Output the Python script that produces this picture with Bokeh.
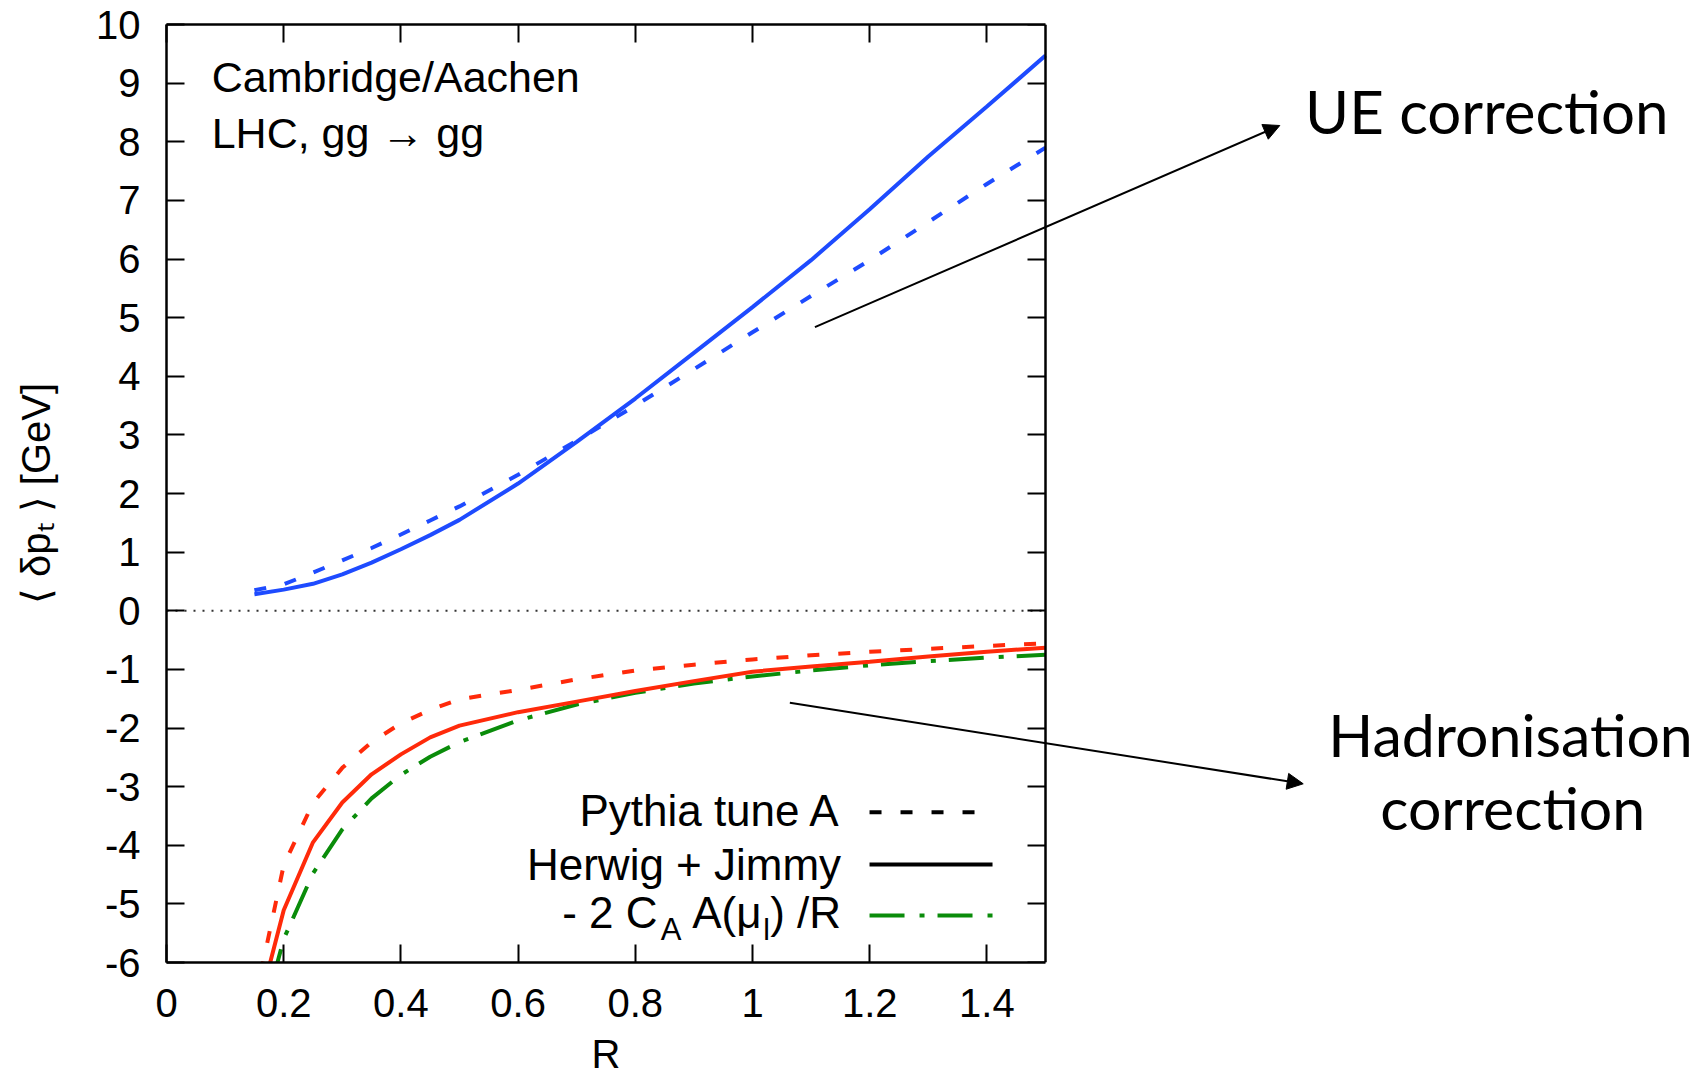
from bokeh.plotting import figure
from bokeh.models import (ColumnDataSource, Label, Arrow, NormalHead,
                          LinearAxis, Range1d, FixedTicker)
from bokeh.embed import file_html
from bokeh.resources import INLINE

# ---- data ----
R = [0.15, 0.2, 0.25, 0.3, 0.35, 0.4, 0.45, 0.5, 0.6, 0.7, 0.8, 0.9, 1.0,
     1.1, 1.2, 1.3, 1.4, 1.5]
ue_herwig = [0.28, 0.36, 0.46, 0.62, 0.82, 1.05, 1.29, 1.55, 2.17, 2.88, 3.62,
             4.40, 5.18, 5.98, 6.85, 7.75, 8.60, 9.47]
ue_pythia = [0.35, 0.45, 0.65, 0.86, 1.07, 1.30, 1.54, 1.78, 2.32, 2.90, 3.50,
             4.12, 4.75, 5.37, 5.98, 6.63, 7.28, 7.90]
had_herwig = [-7.04, -5.11, -3.95, -3.27, -2.79, -2.45, -2.16, -1.96, -1.73,
              -1.55, -1.37, -1.20, -1.04, -0.95, -0.87, -0.78, -0.70, -0.63]
had_pythia = [-6.70, -4.34, -3.28, -2.68, -2.24, -1.92, -1.69, -1.51, -1.35,
              -1.17, -1.02, -0.92, -0.83, -0.76, -0.70, -0.65, -0.60, -0.555]
had_analytic = [-7.47, -5.60, -4.48, -3.73, -3.20, -2.80, -2.49, -2.24, -1.87,
                -1.60, -1.40, -1.24, -1.12, -1.02, -0.93, -0.86, -0.80, -0.75]

x_ticks = [0, 0.2, 0.4, 0.6, 0.8, 1.0, 1.2, 1.4]
x_tick_labels = ["0", "0.2", "0.4", "0.6", "0.8", "1", "1.2", "1.4"]
y_ticks = [-6, -5, -4, -3, -2, -1, 0, 1, 2, 3, 4, 5, 6, 7, 8, 9, 10]
y_tick_labels = ["-6", "-5", "-4", "-3", "-2", "-1", "0", "1", "2", "3", "4",
                 "5", "6", "7", "8", "9", "10"]
x_title = "R"
y_title = "⟨ δpₜ ⟩ [GeV]"
R_MIN, R_MAX = 0.0, 1.5
Y_MIN, Y_MAX = -6.0, 10.0

BLUE = "#1e4bff"
RED = "#ff2a0a"
GREEN = "#0a8c0a"
FONT = "Liberation Sans"
ANN_FONT = "Lato"

PX_PER_R = 586.0
FRAME_W = 1530
X_END = FRAME_W / PX_PER_R   # frame continues right of the box for the notes

p = figure(frame_width=FRAME_W, frame_height=938,
           min_border_left=166, min_border_right=0,
           min_border_top=24, min_border_bottom=118,
           x_range=Range1d(0, X_END), y_range=Range1d(Y_MIN, Y_MAX),
           output_backend="svg", toolbar_location=None,
           y_axis_label=y_title)
p.background_fill_color = "white"
p.border_fill_color = "white"
p.xgrid.visible = False
p.ygrid.visible = False
p.outline_line_color = None

# bottom / left axes
xa = p.xaxis[0]
xa.ticker = FixedTicker(ticks=x_ticks)
xa.bounds = (R_MIN, R_MAX)
xa.major_label_overrides = {t: l for t, l in zip(x_ticks, x_tick_labels)}
ya = p.yaxis[0]
ya.ticker = FixedTicker(ticks=y_ticks)
ya.major_label_overrides = {t: l for t, l in zip(y_ticks, y_tick_labels)}
for ax in (xa, ya):
    ax.major_tick_in = 18
    ax.major_tick_out = 0
    ax.major_tick_line_width = 2
    ax.major_tick_line_color = "black"
    ax.minor_tick_line_color = None
    ax.axis_line_width = 2.5
    ax.axis_line_color = "black"
    ax.major_label_text_font = FONT
    ax.major_label_text_font_size = "40px"
    ax.major_label_text_color = "black"
    ax.axis_label_text_font = FONT
    ax.axis_label_text_font_size = "40px"
    ax.axis_label_text_font_style = "normal"
    ax.axis_label_text_color = "black"
xa.major_label_standoff = 26
ya.major_label_standoff = 26
ya.axis_label_standoff = 35

# x title centred under the box (R = 0.75) via a label-only axis
mid = (R_MIN + R_MAX) / 2
tax = LinearAxis(ticker=FixedTicker(ticks=[mid]), bounds=(R_MIN, R_MAX))
tax.major_label_overrides = {mid: x_title}
tax.axis_line_color = None
tax.major_tick_line_color = None
tax.minor_tick_line_color = None
tax.major_label_text_font = FONT
tax.major_label_text_font_size = "40px"
tax.major_label_text_color = "black"
tax.major_label_standoff = 6
p.add_layout(tax, "below")

# mirrored tick marks on top and on the right edge of the box (R = 1.5)
top = LinearAxis(ticker=FixedTicker(ticks=x_ticks), bounds=(R_MIN, R_MAX))
right = LinearAxis(ticker=FixedTicker(ticks=y_ticks), fixed_location=R_MAX)
for ax, ticks in ((top, x_ticks), (right, y_ticks)):
    ax.major_label_overrides = {t: "" for t in ticks}
    ax.major_label_text_font_size = "1px"
    ax.major_label_standoff = 0
    ax.major_tick_in = 18
    ax.major_tick_out = 0
    ax.major_tick_line_width = 2
    ax.minor_tick_line_color = None
    ax.axis_line_width = 2.5
p.add_layout(top, "above")
p.add_layout(right, "right")

# zero line across the box
p.segment(x0=[R_MIN], y0=[0], x1=[R_MAX], y1=[0], line_color="#333333",
          line_width=2, line_dash="2 7")

src = ColumnDataSource(dict(R=R, ueh=ue_herwig, uep=ue_pythia,
                            hh=had_herwig, hp=had_pythia, ha=had_analytic))
LW = 4
p.line("R", "uep", source=src, line_color=BLUE, line_width=LW, line_dash="12 19")
p.line("R", "ueh", source=src, line_color=BLUE, line_width=LW)
p.line("R", "hp", source=src, line_color=RED, line_width=LW, line_dash="12 19")
p.line("R", "ha", source=src, line_color=GREEN, line_width=LW, line_dash="35 15 5 13")
p.line("R", "hh", source=src, line_color=RED, line_width=LW)

# in-plot text
for txt, yv in (("Cambridge/Aachen", 9.098), ("LHC, gg → gg", 8.150)):
    p.add_layout(Label(x=0.0771, y=yv, text=txt, text_font=FONT,
                       text_font_size="43px", text_baseline="alphabetic",
                       text_align="left", text_color="black"))

# legend (label on the left, sample on the right)
leg_x_text = 1.1512
rows = [("Pythia tune A", -3.414, -3.436, "black", "12 19"),
        ("Herwig + Jimmy", -4.323, -4.327, "black", "solid"),
        (None, -5.147, -5.197, GREEN, "35 15 5 13")]
for txt, yb, yl, col, dash in rows:
    if txt is not None:
        p.add_layout(Label(x=leg_x_text, y=yb, text=txt, text_font=FONT,
                           text_font_size="44px", text_align="right",
                           text_baseline="alphabetic", text_color="black"))
    p.line([1.1997, 1.4096], [yl, yl], line_color=col, line_width=LW,
           line_dash=dash)

y3 = -5.147
ysub = -5.435
pieces = [(") /R", leg_x_text, y3, "44px"),
          ("l", 1.0299, ysub, "30px"),
          ("A(μ", 1.0154, y3, "44px"),
          ("A", 0.8788, ysub, "31px"),
          ("- 2 C", 0.8379, y3, "44px")]
for txt, xv, yv, fs in pieces:
    p.add_layout(Label(x=xv, y=yv, text=txt, text_font=FONT,
                       text_font_size=fs, text_align="right",
                       text_baseline="alphabetic", text_color="black"))

# notes to the right of the box
p.add_layout(Arrow(end=NormalHead(size=16, fill_color="black", line_color="black"),
                   x_start=1.1065, y_start=4.837, x_end=1.8998, y_end=8.277,
                   line_width=2, line_color="black"))
p.add_layout(Arrow(end=NormalHead(size=16, fill_color="black", line_color="black"),
                   x_start=1.0637, y_start=-1.570, x_end=1.9398, y_end=-2.952,
                   line_width=2, line_color="black"))
p.add_layout(Label(x=1.9429, y=8.517, text="UE correction", text_font=ANN_FONT,
                   text_font_size="60px", text_align="left",
                   text_baseline="alphabetic", text_color="black"))
p.add_layout(Label(x=2.2935, y=-2.108, text="Hadronisation", text_font=ANN_FONT,
                   text_font_size="59px", text_align="center",
                   text_baseline="alphabetic", text_color="black"))
p.add_layout(Label(x=2.2973, y=-3.362, text="correction", text_font=ANN_FONT,
                   text_font_size="59px", text_align="center",
                   text_baseline="alphabetic", text_color="black"))

open("out.html", "w").write(file_html(p, INLINE))
